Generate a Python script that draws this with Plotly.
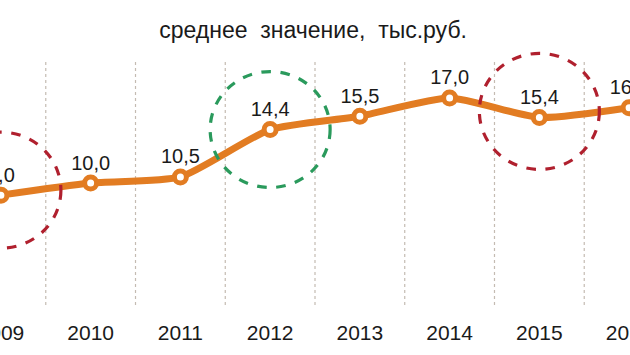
import plotly.graph_objects as go

years = [2009, 2010, 2011, 2012, 2013, 2014, 2015, 2016]
values = [9.0, 10.0, 10.5, 14.4, 15.5, 17.0, 15.4, 16.2]
labels = ["9,0", "10,0", "10,5", "14,4", "15,5", "17,0", "15,4", "16,2"]
title_text = "среднее  значение,  тыс.руб."
red_years = [2009, 2015]
green_years = [2012]

ORANGE = "#E27C22"
FONT = "Liberation Sans, Arial, sans-serif"

fig = go.Figure()
fig.add_trace(go.Scatter(
    x=years, y=values, mode="lines+markers+text",
    line=dict(color=ORANGE, width=7, shape="spline", smoothing=0.6),
    marker=dict(size=12, color="white", line=dict(color=ORANGE, width=5)),
    text=labels, textposition="top center",
    textfont=dict(size=20, color="#1a1a1a", family=FONT),
    cliponaxis=False, hoverinfo="skip",
))

# plot area spans y 40..305 px; dotted separators from y 62 to 305
sep_top = (305 - 62) / 265
shapes = []
for i in range(len(years) - 1):
    xm = (years[i] + years[i + 1]) / 2
    shapes.append(dict(type="line", xref="x", yref="paper", x0=xm, x1=xm, y0=0, y1=sep_top,
                       line=dict(color="#c4bbb2", width=1.2, dash="dot"), layer="below"))

def circle(yr, color, dy=0):
    v = values[years.index(yr)]
    return dict(type="circle", xref="x", yref="y", xsizemode="pixel", ysizemode="pixel",
                xanchor=yr, yanchor=v, x0=-60, x1=60, y0=-58 + dy, y1=58 + dy,
                line=dict(color=color, width=3.2, dash="dash"), layer="above")

shapes.append(circle(red_years[0], "#B0202E", dy=5))
shapes.append(circle(red_years[1], "#B0202E", dy=6))
for yr in green_years:
    shapes.append(circle(yr, "#2A9A5C"))

fig.update_layout(
    width=630, height=355,
    margin=dict(l=0, r=0, t=40, b=50, autoexpand=False),
    paper_bgcolor="white", plot_bgcolor="white",
    showlegend=False,
    shapes=shapes,
    title=dict(text=title_text, x=0.497, xanchor="center", y=0.915, yanchor="middle",
               font=dict(size=23, color="#1a1a1a", family=FONT)),
    xaxis=dict(range=[2008.99, 2016.01], tickvals=years, ticktext=[str(y) for y in years],
               showgrid=False, zeroline=False, showline=False, ticks="",
               automargin=False, ticklabelstandoff=13, ticklabeloverflow="allow",
               tickfont=dict(size=21, color="#1a1a1a", family=FONT)),
    yaxis=dict(range=[-0.04, 21.77], visible=False, showgrid=False, zeroline=False,
               automargin=False),
)

fig.write_html("out.html", config={"displayModeBar": False, "staticPlot": True},
               post_script="document.body.style.margin='0';")
